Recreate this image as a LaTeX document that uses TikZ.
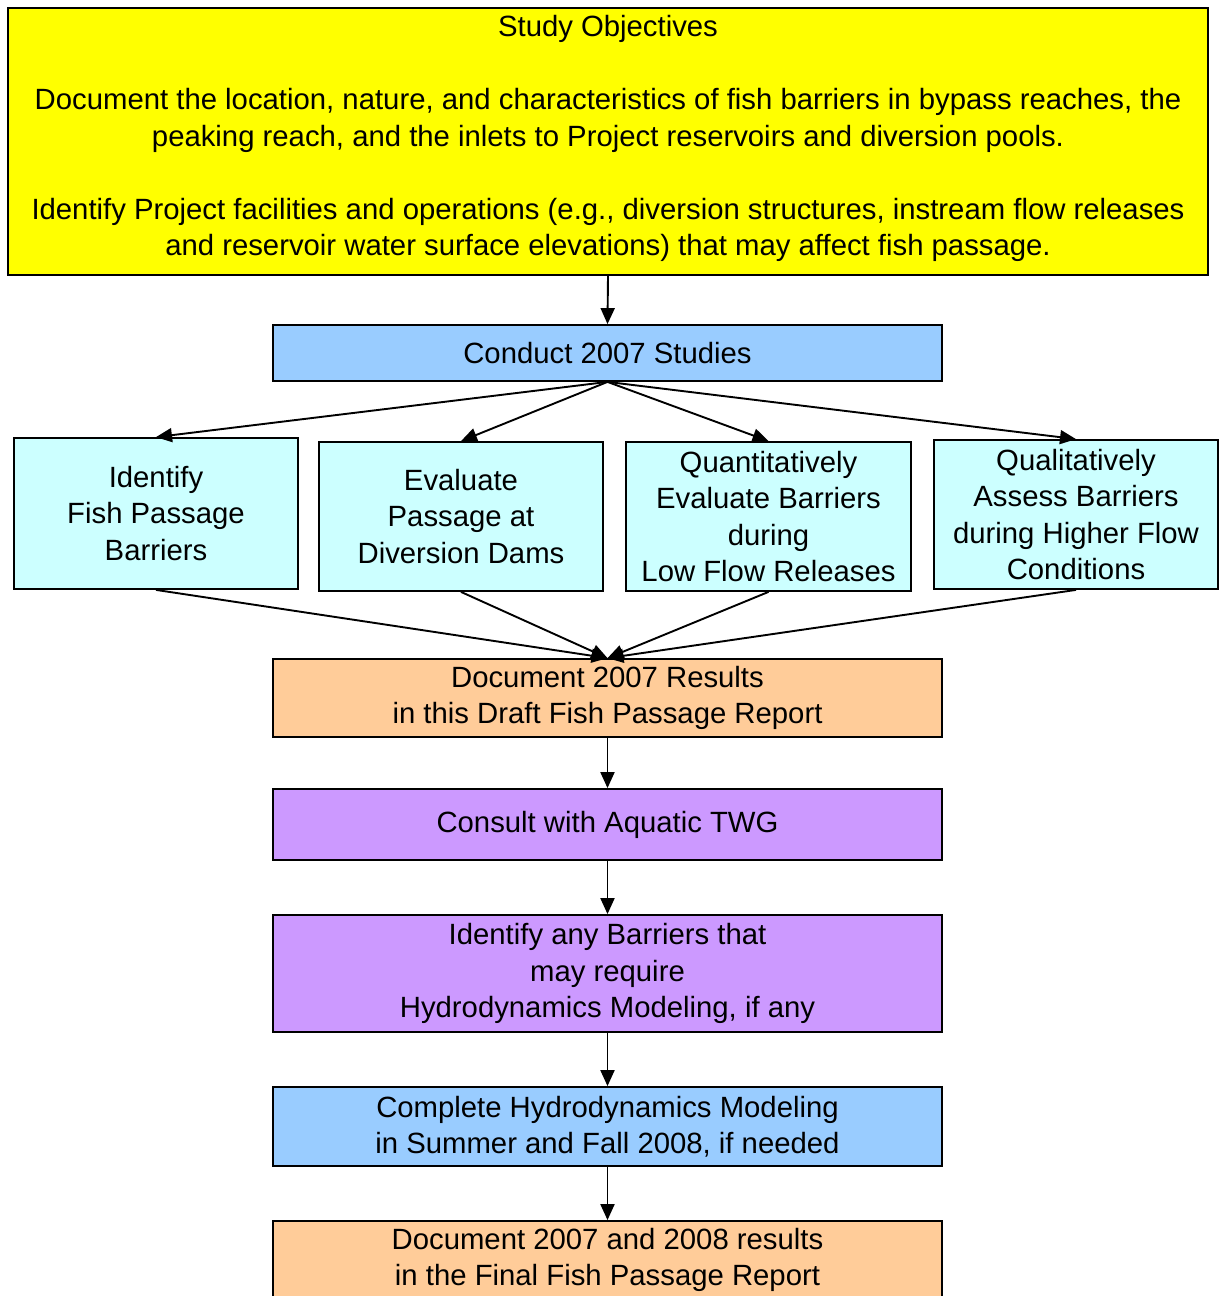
\documentclass[tikz,border=0pt]{standalone}
\usepackage{fontspec}
\setmainfont{Liberation Sans}
\usetikzlibrary{arrows.meta}
\newcommand\diagfont{\fontsize{29.3pt}{36.5pt}\selectfont}
\definecolor{cYellow}{HTML}{FFFF00}
\definecolor{cBlue}{HTML}{99CCFF}
\definecolor{cCyan}{HTML}{CCFFFF}
\definecolor{cOrange}{HTML}{FFCC99}
\definecolor{cViolet}{HTML}{CC99FF}
\tikzset{
  box/.style={draw=black, line width=1.8pt, align=center, inner sep=0pt, font=\diagfont, text=black},
  arr/.style={line width=1.9pt, -{Triangle[length=16pt,width=14pt]}},
}
\begin{document}
\begin{tikzpicture}[x=1pt,y=-1pt]
\clip (0,0) rectangle (1221,1296);
\fill[white] (0,0) rectangle (1221,1296);
\node[box, fill=cYellow, minimum width=1200pt, minimum height=267pt, text depth=12pt] (obj) at (608,141.5)
 {Study Objectives\\[36.5pt]
  Document the location, nature, and characteristics of fish barriers in bypass reaches, the\\
  peaking reach, and the inlets to Project reservoirs and diversion pools.\\[36.5pt]
  Identify Project facilities and operations (e.g., diversion structures, instream flow releases\\
  and reservoir water surface elevations) that may affect fish passage.};
\node[box, fill=cBlue, minimum width=669pt, minimum height=56pt] (conduct) at (607.5,353) {Conduct 2007 Studies};
\node[box, fill=cCyan, minimum width=284pt, minimum height=151pt] (b1) at (156,513.5) {Identify\\Fish Passage\\Barriers};
\node[box, fill=cCyan, minimum width=284pt, minimum height=149pt] (b2) at (461,516.5) {Evaluate\\Passage at\\Diversion Dams};
\node[box, fill=cCyan, minimum width=285pt, minimum height=149pt] (b3) at (768.5,516.5) {Quantitatively\\Evaluate Barriers\\during\\Low Flow Releases};
\node[box, fill=cCyan, minimum width=284pt, minimum height=149pt] (b4) at (1076,514.5) {Qualitatively\\Assess Barriers\\during Higher Flow\\Conditions};
\node[box, fill=cOrange, minimum width=669pt, minimum height=78pt] (doc) at (607.5,698) {Document 2007 Results\\in this Draft Fish Passage Report};
\node[box, fill=cViolet, minimum width=669pt, minimum height=71pt] (consult) at (607.5,824.5) {Consult with Aquatic TWG};
\node[box, fill=cViolet, minimum width=669pt, minimum height=117pt] (ident) at (607.5,973.5) {Identify any Barriers that\\may require\\Hydrodynamics Modeling, if any};
\node[box, fill=cBlue, minimum width=669pt, minimum height=79pt] (complete) at (607.5,1126.5) {Complete Hydrodynamics Modeling\\in Summer and Fall 2008, if needed};
\node[box, fill=cOrange, minimum width=669pt, minimum height=78pt] (final) at (607.5,1260) {Document 2007 and 2008 results\\in the Final Fish Passage Report};
\draw[arr] (obj.south) -- (conduct.north);
\draw[arr] (conduct.south) -- (b1.north);
\draw[arr] (conduct.south) -- (b2.north);
\draw[arr] (conduct.south) -- (b3.north);
\draw[arr] (conduct.south) -- (b4.north);
\draw[arr] (b1.south) -- (doc.north);
\draw[arr] (b2.south) -- (doc.north);
\draw[arr] (b3.south) -- (doc.north);
\draw[arr] (b4.south) -- (doc.north);
\draw[arr] (doc.south) -- (consult.north);
\draw[arr] (consult.south) -- (ident.north);
\draw[arr] (ident.south) -- (complete.north);
\draw[arr] (complete.south) -- (final.north);
\end{tikzpicture}
\end{document}
